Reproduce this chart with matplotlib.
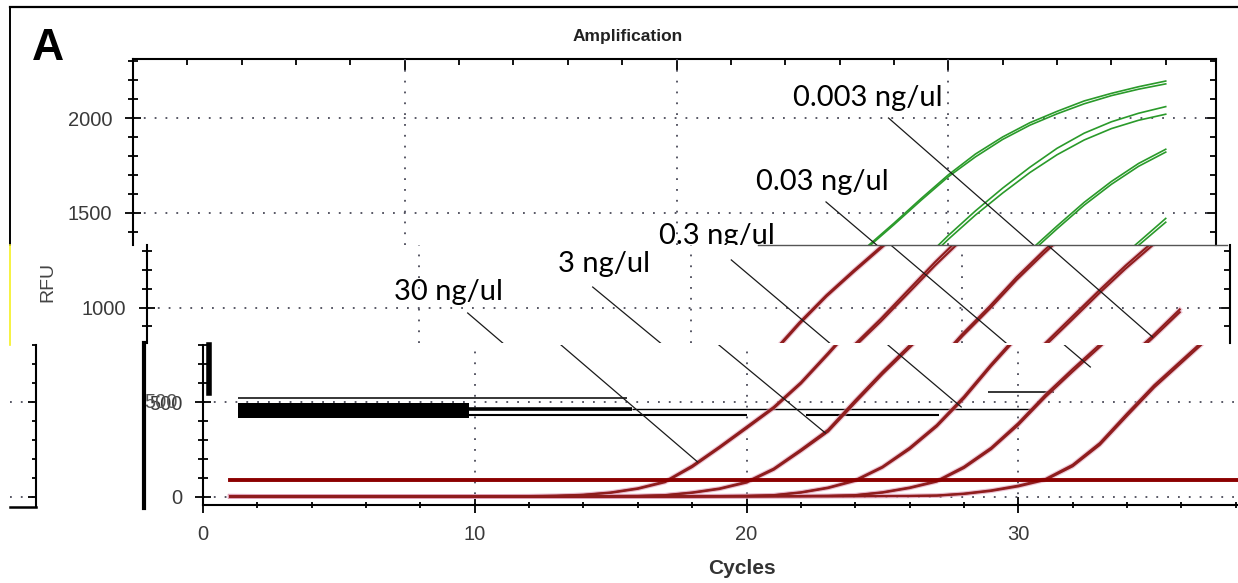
import matplotlib.pyplot as plt
from matplotlib.lines import Line2D
from matplotlib.ticker import MultipleLocator

plt.rcParams['font.family'] = ['Liberation Sans', 'DejaVu Sans']

# ---- data ----
cycles = list(range(1, 39))

# two replicates per dilution, RFU at each cycle
rfu_30_a = [5, 4, 4, 3, 3, 3, 3, 3, 4, 4, 4, 5, 7, 12, 24, 46, 82, 165, 265, 370, 475, 605, 760, 920, 1065, 1195, 1320, 1445, 1575, 1700, 1810, 1900, 1975, 2035, 2090, 2130, 2165, 2195]
rfu_30_b = [4, 4, 3, 3, 3, 2, 3, 3, 3, 4, 4, 4, 6, 11, 22, 43, 78, 158, 258, 362, 468, 598, 752, 912, 1058, 1187, 1312, 1437, 1566, 1690, 1795, 1887, 1962, 2022, 2075, 2118, 2152, 2180]
rfu_3_a = [4, 4, 3, 3, 3, 2, 3, 3, 3, 3, 3, 3, 4, 4, 5, 6, 10, 24, 45, 80, 150, 250, 355, 510, 660, 800, 940, 1090, 1240, 1380, 1510, 1630, 1740, 1840, 1920, 1980, 2025, 2060]
rfu_3_b = [3, 3, 3, 3, 2, 2, 2, 3, 3, 3, 3, 3, 3, 4, 4, 5, 9, 22, 42, 76, 144, 242, 345, 498, 648, 788, 926, 1074, 1222, 1360, 1488, 1604, 1712, 1806, 1884, 1944, 1988, 2020]
rfu_03_a = [4, 3, 3, 3, 3, 3, 2, 2, 3, 3, 3, 3, 3, 3, 3, 4, 4, 4, 5, 6, 10, 25, 50, 89, 160, 260, 380, 530, 700, 860, 1005, 1160, 1300, 1430, 1555, 1665, 1760, 1835]
rfu_03_b = [3, 3, 3, 3, 2, 2, 2, 2, 2, 3, 3, 3, 3, 3, 3, 3, 4, 4, 5, 6, 9, 23, 47, 85, 155, 252, 372, 520, 690, 848, 992, 1146, 1285, 1415, 1540, 1650, 1745, 1820]
rfu_003_a = [4, 4, 3, 3, 3, 3, 3, 2, 2, 2, 3, 3, 3, 3, 3, 3, 3, 4, 4, 4, 5, 5, 6, 10, 25, 50, 85, 160, 260, 390, 540, 675, 805, 945, 1085, 1220, 1345, 1470]
rfu_003_b = [3, 3, 3, 3, 2, 2, 2, 2, 2, 2, 2, 3, 3, 3, 3, 3, 3, 3, 4, 4, 4, 5, 6, 9, 23, 47, 81, 153, 252, 380, 528, 662, 792, 930, 1070, 1204, 1328, 1450]
rfu_0003_a = [5, 4, 4, 3, 3, 3, 3, 3, 2, 2, 2, 2, 3, 3, 3, 3, 3, 3, 3, 4, 4, 4, 4, 5, 5, 6, 8, 18, 35, 60, 95, 170, 285, 440, 590, 720, 850, 990]
rfu_0003_b = [4, 4, 3, 3, 3, 2, 2, 2, 2, 2, 2, 2, 2, 3, 3, 3, 3, 3, 3, 3, 4, 4, 4, 4, 5, 5, 7, 16, 32, 56, 90, 162, 275, 428, 578, 708, 838, 975]

curves = [rfu_30_a, rfu_30_b, rfu_3_a, rfu_3_b, rfu_03_a, rfu_03_b,
          rfu_003_a, rfu_003_b, rfu_0003_a, rfu_0003_b]

threshold = 89

labels = ["30 ng/ul", "3 ng/ul", "0.3 ng/ul", "0.03 ng/ul", "0.003 ng/ul"]
label_pos = [(11.1, 1082), (16.8, 1230), (21.5, 1377), (25.36, 1662), (27.05, 2105)]
leader_start = [(11.8, 971), (16.4, 1108), (21.5, 1251), (25.5, 1557), (27.8, 2000)]
leader_end = [(18.2, 185), (22.9, 338), (27.9, 475), (32.65, 686), (37.0, 844)]

# black remnants pasted over the lower strip (cycles, RFU)
patch_bar = (1.29, 9.79, 417, 496)
patch_lines = [(1.29, 15.6, 525, 1.1), (9.79, 15.8, 464, 2.6), (15.8, 30.5, 464, 1.0),
               (9.79, 20.0, 433, 1.5), (22.2, 27.1, 433, 1.5), (28.9, 31.3, 554, 1.1)]

# ---- layout: the picture is three horizontal strips of one chart, slid sideways ----
W, H = 1238, 583
XMAX = 39.85
SPAN = 1083            # px covered by 0..XMAX
Y0, S = 497, 0.1895    # px of RFU 0, px per RFU


def rfu_at(py):
    return (Y0 - py) / S


def fig_line(x0, y0, x1, y1, **kw):
    fig.add_artist(Line2D([x0 / W, x1 / W], [1 - y0 / H, 1 - y1 / H],
                          transform=fig.transFigure, **kw))


fig = plt.figure(figsize=(W / 100, H / 100), dpi=100)

TICK_COL = '#3a3a3a'
GRID = dict(linestyle=(0, (1, 5)), linewidth=1.3, color='#4a4a58')


def make_strip(px_left, px_top, px_bot, xaxis_labels):
    ax = fig.add_axes([px_left / W, 1 - px_bot / H, SPAN / W, (px_bot - px_top) / H])
    ax.set_xlim(0, XMAX)
    ax.set_ylim(rfu_at(px_bot), rfu_at(px_top))
    ax.patch.set_alpha(0)
    ax.xaxis.set_major_locator(MultipleLocator(10))
    ax.xaxis.set_minor_locator(MultipleLocator(2))
    ax.yaxis.set_major_locator(MultipleLocator(500))
    ax.yaxis.set_minor_locator(MultipleLocator(100))
    ax.grid(True, which='major', **GRID)
    ax.tick_params(axis='y', which='major', direction='inout', length=12, width=1.3,
                   pad=9, labelsize=14.5, labelcolor=TICK_COL)
    ax.tick_params(axis='y', which='minor', direction='inout', length=7, width=1.3)
    ax.tick_params(axis='x', which='major', direction='inout', length=11, width=1.3,
                   pad=9, labelsize=14.5, labelcolor=TICK_COL,
                   bottom=xaxis_labels, labelbottom=xaxis_labels)
    ax.tick_params(axis='x', which='minor', direction='inout', length=5, width=1.3,
                   bottom=xaxis_labels)
    for side in ['top', 'right', 'bottom']:
        ax.spines[side].set_visible(False)
    ax.spines['left'].set_linewidth(1.5)
    return ax


def right_ticks(ax):
    sec = ax.secondary_yaxis('right')
    sec.yaxis.set_major_locator(MultipleLocator(500))
    sec.yaxis.set_minor_locator(MultipleLocator(100))
    sec.tick_params(which='major', direction='in', length=8, width=1.3, labelright=False)
    sec.tick_params(which='minor', direction='in', length=4, width=1.3)
    sec.spines['right'].set_linewidth(1.5)


ax_top = make_strip(133, 59, 245, False)
ax_mid = make_strip(147, 245, 343, False)
ax_bot = make_strip(203, 345, 505, True)
ax_bot.spines['bottom'].set_visible(True)
ax_bot.spines['bottom'].set_linewidth(1.5)

right_ticks(ax_top)
right_ticks(ax_mid)
sec_top = ax_top.secondary_xaxis('top')
sec_top.xaxis.set_major_locator(MultipleLocator(10))
sec_top.xaxis.set_minor_locator(MultipleLocator(2))
sec_top.tick_params(which='major', direction='in', length=8, width=1.3, labeltop=False)
sec_top.tick_params(which='minor', direction='in', length=4, width=1.3)
sec_top.spines['top'].set_linewidth(1.5)

# curves: green in the top strip, red below
for rfu in curves:
    ax_top.plot(cycles, rfu, color='#2a9a2a', lw=1.2, zorder=3)
    for ax in (ax_mid, ax_bot):
        ax.plot(cycles, rfu, color='#e0a0b8', lw=3.2, alpha=0.55, zorder=2.8)
        ax.plot(cycles, rfu, color='#8f1d1d', lw=1.5, zorder=3)

ax_bot.plot([cycles[0], XMAX], [threshold, threshold], color='#8b0000', lw=2.8, zorder=3.2)

# remnants over the lower strip
ax_bot.fill_between([patch_bar[0], patch_bar[1]], patch_bar[2], patch_bar[3],
                    color='black', lw=0, zorder=1.8)
for x0, x1, y, w in patch_lines:
    ax_bot.plot([x0, x1], [y, y], color='black', lw=w, zorder=1.8, solid_capstyle='butt')

# labels go in the strip holding their centre; leader lines are clipped by every strip
for ax in (ax_top, ax_mid, ax_bot):
    lo, hi = ax.get_ylim()
    for txt, (lx, ly) in zip(labels, label_pos):
        if lo <= ly <= hi:
            ax.text(lx, ly, txt, family=['Lato', 'DejaVu Sans'], fontsize=21,
                    ha='center', va='center', color='black', clip_on=True, zorder=4)
    for (x0, y0), (x1, y1) in zip(leader_start, leader_end):
        ax.plot([x0, x1], [y0, y1], color='#1a1a1a', lw=0.9, zorder=3.5)

# right edge of another copy, peeking in at the far left
ax_rem = fig.add_axes([10 / W, 1 - 507 / H, 26 / W, (507 - 345) / H])
ax_rem.set_xlim(XMAX - 26 / (SPAN / XMAX), XMAX)
ax_rem.set_ylim(rfu_at(507), rfu_at(345))
ax_rem.patch.set_alpha(0)
ax_rem.yaxis.set_major_locator(MultipleLocator(500))
ax_rem.yaxis.set_minor_locator(MultipleLocator(100))
ax_rem.set_xticks([])
ax_rem.grid(True, axis='y', which='major', **GRID)
ax_rem.yaxis.tick_right()
ax_rem.tick_params(axis='y', which='major', direction='in', length=6, width=1.3, labelright=False)
ax_rem.tick_params(axis='y', which='minor', direction='in', length=3, width=1.3)
for side in ['top', 'left']:
    ax_rem.spines[side].set_visible(False)
ax_rem.spines['right'].set_linewidth(1.5)
ax_rem.spines['bottom'].set_linewidth(1.8)

# frame and pasting seams
fig_line(10, 7, 1238, 7, color='black', lw=1.6)
fig_line(10, 7, 10, 245, color='black', lw=1.4)
fig_line(10, 245, 10, 345, color='#f5f020', lw=1.2)
fig_line(758, 244.5, 1227, 244.5, color='#555555', lw=1.0)
fig_line(144, 343, 144, 508, color='black', lw=3.0)
fig_line(209, 345, 209, 393, color='black', lw=4.0)

# texts
fig.text(48 / W, 1 - 48 / H, 'A', fontsize=32, fontweight='bold', ha='center', va='center')
fig.text(628 / W, 1 - 36 / H, 'Amplification', fontsize=12.5, fontweight='bold',
         ha='center', va='center', color='#222222')
fig.text(48 / W, 1 - 282 / H, 'RFU', fontsize=14, rotation=90, ha='center', va='center',
         color='#444444')
fig.text(742 / W, 1 - 568 / H, 'Cycles', fontsize=15, fontweight='bold', ha='center',
         va='center', color='#333333')
fig.text(178 / W, 1 - 402 / H, '500', fontsize=14.5, ha='right', va='center', color='#555555')

fig.savefig('out.png', dpi=100)
